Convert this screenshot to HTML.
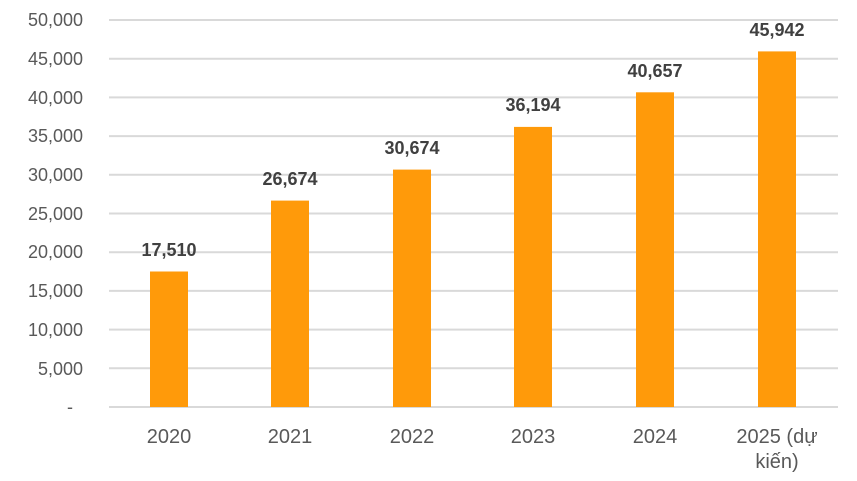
<!DOCTYPE html>
<html><head><meta charset="utf-8"><style>body{margin:0;background:#fff}svg{display:block}</style></head><body>
<svg width="857" height="481" xmlns="http://www.w3.org/2000/svg" font-family="Liberation Sans, DejaVu Sans, sans-serif">
<g stroke="#d9d9d9" stroke-width="2">
<line x1="109" x2="838" y1="20" y2="20"/><line x1="109" x2="838" y1="58.7" y2="58.7"/><line x1="109" x2="838" y1="97.4" y2="97.4"/><line x1="109" x2="838" y1="136.1" y2="136.1"/><line x1="109" x2="838" y1="174.8" y2="174.8"/><line x1="109" x2="838" y1="213.5" y2="213.5"/><line x1="109" x2="838" y1="252.2" y2="252.2"/><line x1="109" x2="838" y1="290.9" y2="290.9"/><line x1="109" x2="838" y1="329.6" y2="329.6"/><line x1="109" x2="838" y1="368.3" y2="368.3"/><line x1="109" x2="838" y1="407" y2="407"/>
</g>
<g fill="#595959" font-size="18" text-anchor="end">
<text x="83" y="26">50,000</text><text x="83" y="65">45,000</text><text x="83" y="104">40,000</text><text x="83" y="142">35,000</text><text x="83" y="181">30,000</text><text x="83" y="220">25,000</text><text x="83" y="258">20,000</text><text x="83" y="297">15,000</text><text x="83" y="336">10,000</text><text x="83" y="375">5,000</text><text x="73" y="413">-</text>
</g>
<g fill="#FF9A0A">
<rect x="150" y="271.5" width="38" height="135.5"/>
<rect x="271" y="200.6" width="38" height="206.4"/>
<rect x="393" y="169.6" width="38" height="237.4"/>
<rect x="514" y="126.9" width="38" height="280.1"/>
<rect x="636" y="92.3" width="38" height="314.7"/>
<rect x="758" y="51.4" width="38" height="355.6"/>
</g>
<g fill="#404040" font-size="18" font-weight="bold" text-anchor="middle">
<text x="169" y="256">17,510</text><text x="290" y="185">26,674</text><text x="412" y="154">30,674</text><text x="533" y="111">36,194</text><text x="655" y="77">40,657</text><text x="777" y="36">45,942</text>
</g>
<g fill="#595959" font-size="20" text-anchor="middle">
<text x="169" y="443">2020</text><text x="290" y="443">2021</text><text x="412" y="443">2022</text><text x="533" y="443">2023</text><text x="655" y="443">2024</text><text x="777" y="443">2025 (dự</text><text x="777" y="468">kiến)</text>
</g>
</svg>
</body></html>
